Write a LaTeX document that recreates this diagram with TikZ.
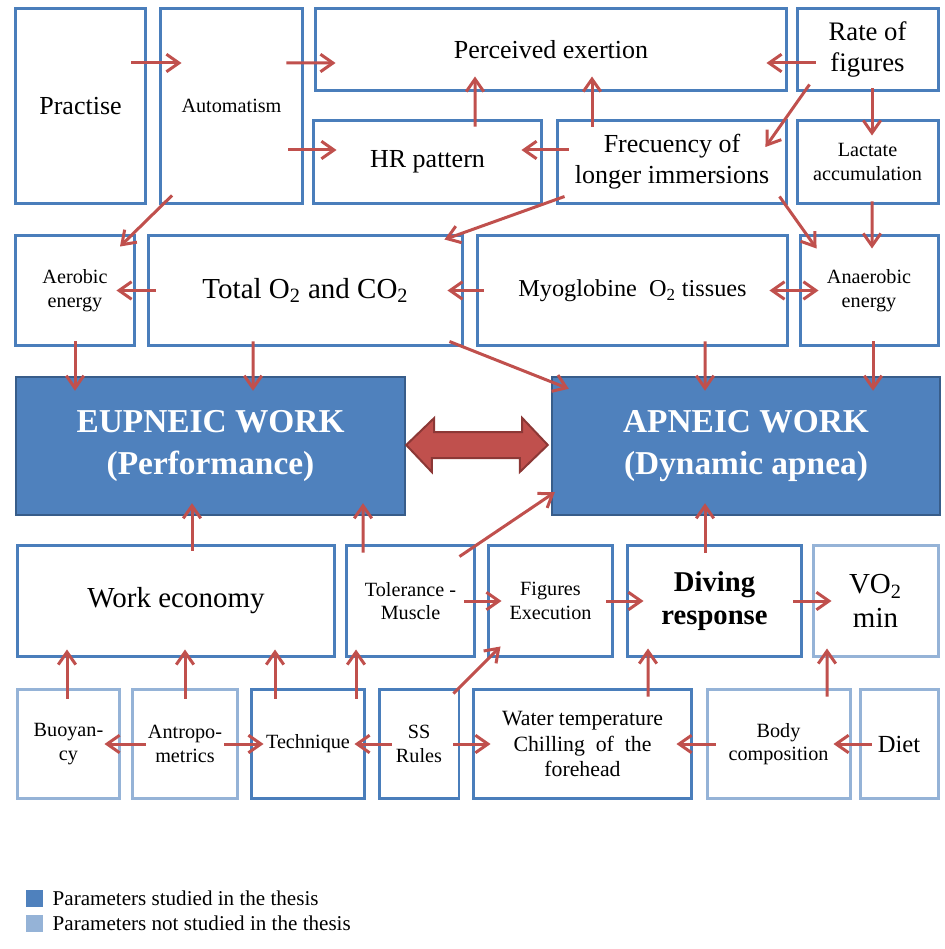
\documentclass[tikz,border=0pt]{standalone}
\usepackage{fontspec}
\setmainfont{Liberation Serif}
\usetikzlibrary{arrows.meta,calc}

\definecolor{boxblue}{HTML}{4A7EBB}
\definecolor{paleblue}{HTML}{95B3D7}
\definecolor{fillblue}{HTML}{4F81BD}
\definecolor{edgeblue}{HTML}{385D8A}
\definecolor{arrowred}{HTML}{C0504D}
\definecolor{edgered}{HTML}{8C3836}

\tikzset{
  box/.style={draw=boxblue, line width=0.06cm, fill=white, inner sep=0pt, align=center},
  palebox/.style={box, draw=paleblue},
  mainbox/.style={box, draw=edgeblue, fill=fillblue, line width=0.05cm, text=white,
    font=\fontsize{19}{23.5}\selectfont\bfseries},
  small/.style={font=\fontsize{11.5}{13.3}\selectfont},
  medium/.style={font=\fontsize{14.8}{17.5}\selectfont},
  large/.style={font=\fontsize{16.5}{19}\selectfont},
  arr/.style={draw=arrowred, line width=0.06cm, -{Straight Barb[length=2.5mm,width=3.5mm]}},
  twoarr/.style={arr, {Straight Barb[length=2.5mm,width=3.5mm]}-{Straight Barb[length=2.5mm,width=3.5mm]}},
  bigarr/.style={fill=arrowred, draw=edgered, line width=0.04cm},
}

\begin{document}
\begin{tikzpicture}[x=0.02cm, y=-0.02cm]
\useasboundingbox (0,0) rectangle (945,949);

% top rows
\node[box, medium, minimum width=2.62cm, minimum height=3.92cm] (prac) at (80.5,106) {Practise};
\node[box, small, minimum width=2.86cm, minimum height=3.92cm] (auto) at (231.5,106) {Automatism};
\node[box, medium, minimum width=9.44cm, minimum height=1.66cm] (perc) at (551,49.5) {Perceived exertion};
\node[box, font=\fontsize{15.2}{17.5}\selectfont, minimum width=2.82cm, minimum height=1.66cm] (rate) at (867.5,49.5) {Rate of\\figures};
\node[box, medium, minimum width=4.58cm, minimum height=1.68cm] (hr) at (427.5,162) {HR pattern};
\node[box, medium, minimum width=4.6cm, minimum height=1.68cm] (frec) at (672,162) {Frecuency of\\longer immersions};
\node[box, small, minimum width=2.82cm, minimum height=1.68cm] (lact) at (867.5,162) {Lactate\\accumulation};

% energy row
\node[box, small, minimum width=2.4cm, minimum height=2.22cm] (aer) at (75,290.5) {Aerobic\\energy};
\node[box, large, minimum width=6.3cm, minimum height=2.22cm] (tot) at (305.5,290.5) {Total O\textsubscript{2} and CO\textsubscript{2}};
\node[box, font=\fontsize{13.8}{16}\selectfont, minimum width=6.22cm, minimum height=2.22cm] (myo) at (632.5,290.5) {Myoglobine\ \ O\textsubscript{2} tissues};
\node[box, small, minimum width=2.76cm, minimum height=2.22cm] (ana) at (869,290.5) {Anaerobic\\energy};

% work
\node[mainbox, minimum width=7.78cm, minimum height=2.76cm] (eup) at (210.5,446) {EUPNEIC WORK\\(Performance)};
\node[mainbox, minimum width=7.76cm, minimum height=2.76cm] (apn) at (746,446) {APNEIC WORK\\(Dynamic apnea)};

% lower rows
\node[box, large, minimum width=6.36cm, minimum height=2.24cm] (work) at (176,601) {Work economy};
\node[box, small, minimum width=2.58cm, minimum height=2.24cm] (tol) at (410.5,601) {Tolerance -\\Muscle};
\node[box, small, minimum width=2.5cm, minimum height=2.24cm] (fig) at (550.5,601) {Figures\\Execution};
\node[box, font=\fontsize{16.3}{19}\selectfont\bfseries, minimum width=3.5cm, minimum height=2.24cm] (div) at (714.5,601) {Diving\\response};
\node[palebox, large, minimum width=2.5cm, minimum height=2.24cm] (vo) at (875.5,601) {VO\textsubscript{2}\\min};

\node[palebox, small, minimum width=2.06cm, minimum height=2.2cm] (buoy) at (68.5,744) {Buoyan-\\cy};
\node[palebox, small, minimum width=2.12cm, minimum height=2.2cm] (antr) at (185,744) {Antropo-\\metrics};
\node[box, small, minimum width=2.28cm, minimum height=2.2cm] (tech) at (308,744) {Technique};
\node[box, small, minimum width=1.6cm, minimum height=2.2cm] (ss) at (419,744) {SS\\Rules};
\node[box, font=\fontsize{12.4}{14.3}\selectfont, minimum width=4.38cm, minimum height=2.2cm] (water) at (582.5,744) {Water temperature\\Chilling\ \ of\ \ the\\forehead};
\node[palebox, small, minimum width=2.86cm, minimum height=2.2cm] (body) at (778.5,744) {Body\\composition};
\node[palebox, font=\fontsize{14}{16}\selectfont, minimum width=1.56cm, minimum height=2.2cm] (diet) at (899,744) {Diet};

% arrows
\draw[arr] ($(prac.east)+(-16,-43)$) -- ($(auto.west)+(23,-43)$);
\draw[arr] ($(auto.east)+(-18,-43)$) -- ($(perc.west)+(22,13.5)$);
\draw[arr] ($(auto.east)+(-16,44)$) -- ($(hr.west)+(25,-12)$);
\draw[arr] ($(auto.south)+(-59.5,-10)$) -- ($(aer.north)+(45,13)$);
\draw[arr] ($(hr.north)+(47.5,8)$) -- ($(perc.south)+(-76,-16)$);
\draw[arr] ($(frec.north)+(-80,8)$) -- ($(perc.south)+(41,-16)$);
\draw[arr] ($(frec.west)+(13,-12)$) -- ($(hr.east)+(-22,-12)$);
\draw[arr] ($(frec.south west)+(9,-9)$) -- ($(tot.north east)+(-20,6)$);
\draw[arr] ($(rate.west)+(20,13.5)$) -- ($(perc.east)+(-22,13.5)$);
\draw[arr] ($(rate.south west)+(14,-8)$) -- ($(frec.east)+(-23,-15)$);
\draw[arr] ($(rate.south)+(4.5,-4)$) -- ($(lact.north)+(4.5,17)$);
\draw[arr] ($(frec.south east)+(-9,-9)$) -- ($(ana.north west)+(18,15)$);
\draw[arr] ($(lact.south)+(4.5,-4)$) -- ($(ana.north)+(3,15)$);
\draw[arr] ($(tot.west)+(9,0)$) -- ($(aer.east)+(-20,0)$);
\draw[arr] ($(myo.west)+(8,0)$) -- ($(tot.east)+(-17,0)$);
\draw[twoarr] ($(myo.east)+(-20,0)$) -- ($(ana.west)+(20,0)$);
\draw[arr] ($(aer.south)+(0,-6)$) -- ($(eup.north)+(-135.5,15)$);
\draw[arr] ($(tot.south)+(-52.5,-6)$) -- ($(eup.north)+(42.5,15)$);
\draw[arr] ($(tot.south east)+(-15,-6)$) -- ($(apn.north west)+(18,13)$);
\draw[arr] ($(myo.south)+(72.5,-6)$) -- ($(apn.north)+(-41,15)$);
\draw[arr] ($(ana.south)+(4,-6)$) -- ($(apn.north)+(127,15)$);

% block arrow between the two works
\draw[bigarr] ($(eup.east)+(0,-1)$) -- ++(28,-27) -- ++(0,14) -- ++(88,0) -- ++(0,-14)
  -- ($(apn.west)+(-3,-1)$) -- ++(-28,27) -- ++(0,-14) -- ++(-88,0) -- ++(0,14) -- cycle;

\draw[arr] ($(work.north)+(16,7)$) -- ($(eup.south)+(-18.5,-13)$);
\draw[arr] ($(tol.north)+(-47.5,9)$) -- ($(eup.south)+(152.5,-13)$);
\draw[arr] ($(tol.north east)+(-17,13)$) -- ($(apn.south west)+(4,-24)$);
\draw[arr] ($(div.north)+(-9.5,9)$) -- ($(apn.south)+(-41,-13)$);
\draw[arr] ($(tol.east)+(-12,0)$) -- ($(fig.west)+(15,0)$);
\draw[arr] ($(fig.east)+(-8,0)$) -- ($(div.west)+(18,0)$);
\draw[arr] ($(div.east)+(-10,0)$) -- ($(vo.west)+(20,0)$);
\draw[arr] ($(ss.north east)+(-7,6)$) -- ($(fig.south west)+(14,-12)$);
\draw[arr] ($(buoy.north)+(-1.5,11)$) -- ($(work.south)+(-109,-9)$);
\draw[arr] ($(antr.north)+(0,11)$) -- ($(work.south)+(9,-9)$);
\draw[arr] ($(tech.north)+(-33,11)$) -- ($(work.south)+(99,-9)$);
\draw[arr] ($(tech.north)+(48,11)$) -- ($(tol.south)+(-54.5,-9)$);
\draw[arr] ($(antr.west)+(15,0)$) -- ($(buoy.east)+(-17,0)$);
\draw[arr] ($(antr.east)+(-15,0)$) -- ($(tech.west)+(14,0)$);
\draw[arr] ($(ss.west)+(14,0)$) -- ($(tech.east)+(-12,0)$);
\draw[arr] ($(ss.east)+(-7,0)$) -- ($(water.west)+(19,0)$);
\draw[arr] ($(water.north)+(65.5,9)$) -- ($(div.south)+(-66.5,-10)$);
\draw[arr] ($(body.west)+(10,0)$) -- ($(water.east)+(-17,0)$);
\draw[arr] ($(body.north)+(48.5,9)$) -- ($(vo.south)+(-48.5,-10)$);
\draw[arr] ($(diet.west)+(13,0)$) -- ($(body.east)+(-18,0)$);

% legend
\node[fill=fillblue, minimum size=0.34cm, inner sep=0pt] (keyin) at (34.5,898.5) {};
\node[fill=paleblue, minimum size=0.34cm, inner sep=0pt] (keyout) at (34.5,923.5) {};
\node[anchor=west, inner sep=0pt, font=\fontsize{12}{14}\selectfont] (keyintext) at ([xshift=0.18cm]keyin.east) {Parameters studied in the thesis};
\node[anchor=west, inner sep=0pt, font=\fontsize{12}{14}\selectfont] (keyouttext) at ([xshift=0.18cm]keyout.east) {Parameters not studied in the thesis};
\end{tikzpicture}
\end{document}
